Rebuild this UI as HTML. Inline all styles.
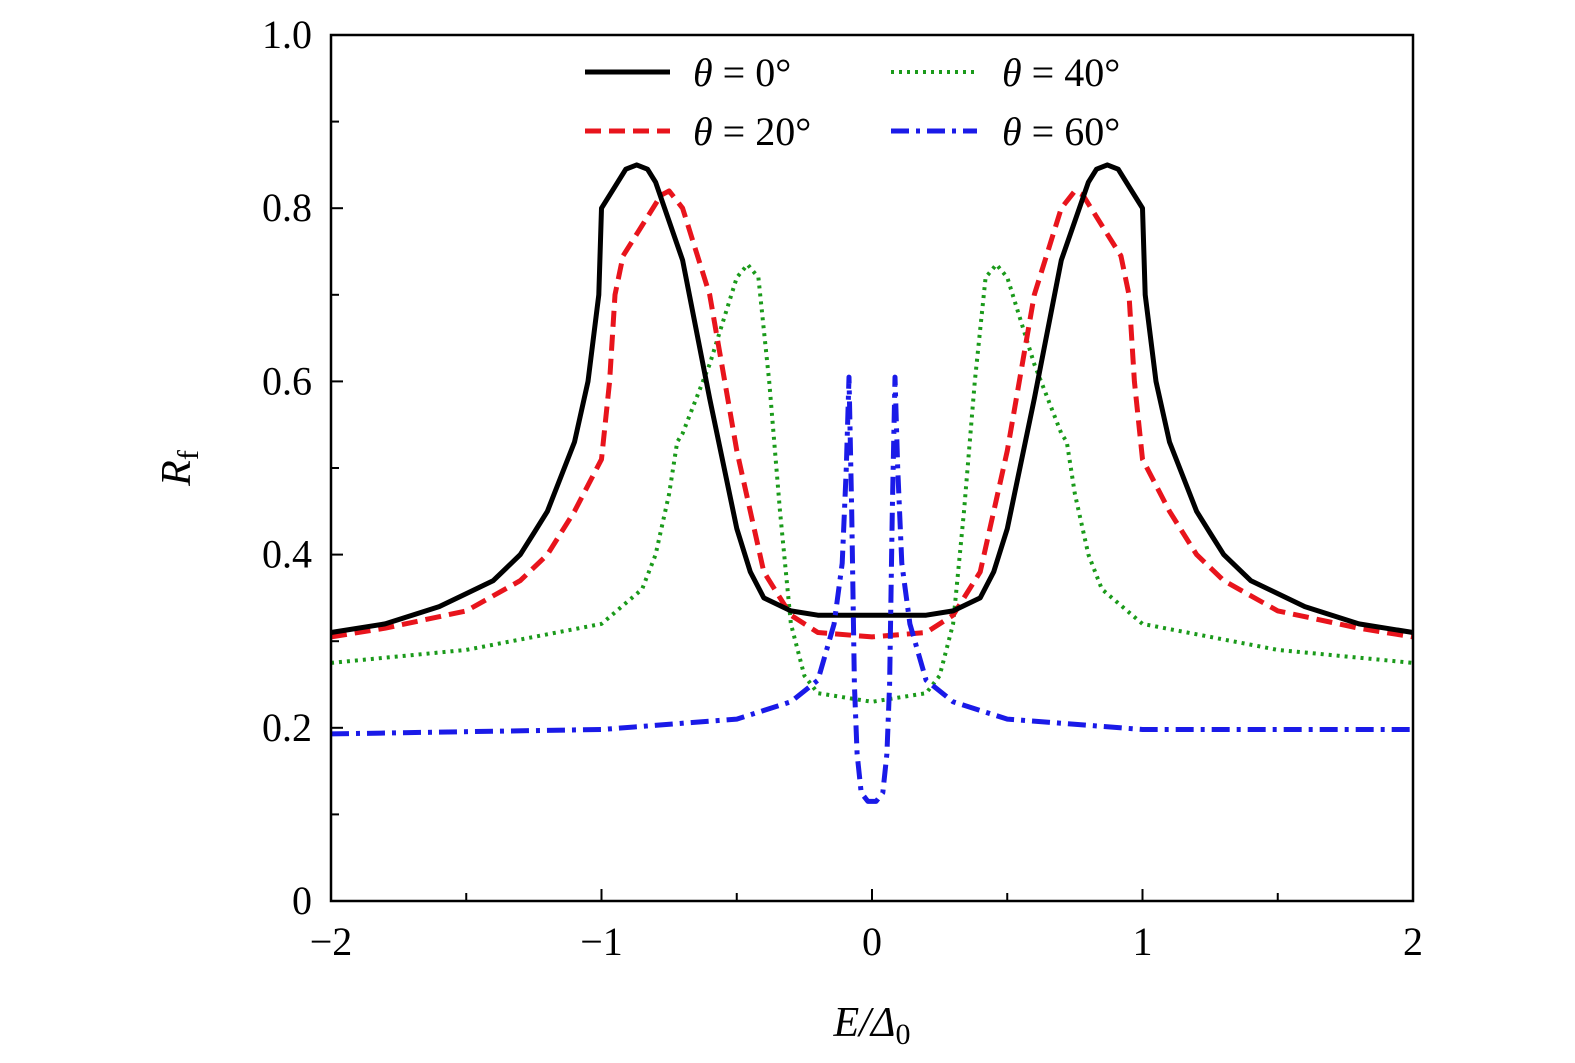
<!DOCTYPE html>
<html><head><meta charset="utf-8"><style>
html,body{margin:0;padding:0;background:#fff;overflow:hidden;width:1575px;height:1063px;}
svg{display:block;font-family:"Liberation Serif",serif;}
</style></head><body>
<svg id="chart" width="1575" height="1063" viewBox="0 0 1575 1063" xmlns="http://www.w3.org/2000/svg">
<g id="ticks"></g>
<g id="series"></g>
<rect x="331" y="35" width="1082" height="866" fill="none" stroke="#000" stroke-width="2.5"/>
<text transform="translate(190,468) rotate(-90)" font-size="42" text-anchor="middle" font-style="italic">R<tspan font-style="normal" font-size="30" dy="8">f</tspan></text>
<text x="872" y="1036" font-size="42" text-anchor="middle" font-style="italic">E/Δ<tspan font-style="normal" font-size="30" dy="8">0</tspan></text>
<g font-size="40">
<g><line x1="585" y1="72" x2="670" y2="72" stroke="#000" stroke-width="5"/><text x="693" y="86"><tspan font-style="italic">θ</tspan> = 0°</text></g>
<g><line x1="585" y1="131" x2="670" y2="131" stroke="#e8141c" stroke-width="5" stroke-dasharray="16,8"/><text x="693" y="145"><tspan font-style="italic">θ</tspan> = 20°</text></g>
<g><line x1="891" y1="72" x2="977" y2="72" stroke="#1a9a1a" stroke-width="4" stroke-dasharray="3,5"/><text x="1002" y="86"><tspan font-style="italic">θ</tspan> = 40°</text></g>
<g><line x1="891" y1="131" x2="977" y2="131" stroke="#1a1ae8" stroke-width="5" stroke-dasharray="18,7,4,7"/><text x="1002" y="145"><tspan font-style="italic">θ</tspan> = 60°</text></g>
</g>
</svg>
<script>
const xTicks=[-2,-1,0,1,2];
const xTickLabels=["−2","−1","0","1","2"];
const yTicks=[0,0.2,0.4,0.6,0.8,1.0];
const yTickLabels=["0","0.2","0.4","0.6","0.8","1.0"];
const e0=[-2,-1.8,-1.6,-1.5,-1.4,-1.3,-1.25,-1.2,-1.1,-1.05,-1.01,-1.0,-0.95,-0.91,-0.87,-0.83,-0.8,-0.7,-0.6,-0.5,-0.45,-0.4,-0.3,-0.2,0,0.2,0.3,0.4,0.45,0.5,0.6,0.7,0.8,0.83,0.87,0.91,0.95,1.0,1.01,1.05,1.1,1.2,1.25,1.3,1.4,1.5,1.6,1.8,2];
const r0=[0.31,0.32,0.34,0.355,0.37,0.40,0.425,0.45,0.53,0.60,0.70,0.80,0.825,0.845,0.85,0.845,0.83,0.74,0.58,0.43,0.38,0.35,0.335,0.33,0.33,0.33,0.335,0.35,0.38,0.43,0.58,0.74,0.83,0.845,0.85,0.845,0.825,0.80,0.70,0.60,0.53,0.45,0.425,0.40,0.37,0.355,0.34,0.32,0.31];
const e20=[-2,-1.8,-1.5,-1.3,-1.2,-1.1,-1.0,-0.97,-0.95,-0.92,-0.85,-0.78,-0.75,-0.7,-0.6,-0.5,-0.4,-0.3,-0.2,0,0.2,0.3,0.4,0.5,0.6,0.7,0.75,0.78,0.85,0.92,0.95,0.97,1.0,1.1,1.2,1.3,1.5,1.8,2];
const r20=[0.305,0.315,0.335,0.37,0.40,0.45,0.51,0.60,0.70,0.745,0.78,0.815,0.82,0.80,0.70,0.52,0.38,0.33,0.31,0.305,0.31,0.33,0.38,0.52,0.70,0.80,0.82,0.815,0.78,0.745,0.70,0.60,0.51,0.45,0.40,0.37,0.335,0.315,0.305];
const e40=[-2,-1.5,-1,-0.85,-0.8,-0.75,-0.72,-0.7,-0.6,-0.5,-0.46,-0.42,-0.38,-0.34,-0.3,-0.25,-0.2,0,0.2,0.25,0.3,0.34,0.38,0.42,0.46,0.5,0.6,0.7,0.72,0.75,0.8,0.85,1,1.5,2];
const r40=[0.275,0.29,0.32,0.36,0.40,0.47,0.53,0.54,0.62,0.72,0.735,0.72,0.60,0.45,0.32,0.26,0.24,0.23,0.24,0.26,0.32,0.45,0.60,0.72,0.735,0.72,0.62,0.54,0.53,0.47,0.40,0.36,0.32,0.29,0.275];
const e60=[-2,-1,-0.5,-0.3,-0.2,-0.14,-0.11,-0.095,-0.085,-0.075,-0.065,-0.055,-0.04,-0.015,0.015,0.04,0.055,0.065,0.075,0.085,0.095,0.11,0.14,0.2,0.3,0.5,1,2];
const r60=[0.193,0.198,0.21,0.23,0.255,0.32,0.39,0.50,0.605,0.45,0.25,0.17,0.125,0.115,0.115,0.125,0.17,0.25,0.45,0.605,0.50,0.39,0.32,0.255,0.23,0.21,0.198,0.198];
const X=v=>872+v*270.5, Y=v=>901-v*866;
const NS="http://www.w3.org/2000/svg";
const tg=document.getElementById('ticks'), sg=document.getElementById('series');
function mk(t,a,p){const e=document.createElementNS(NS,t);for(const k in a)e.setAttribute(k,a[k]);p.appendChild(e);return e;}
for(let v=-2;v<=2.001;v+=0.5){const l=mk('line',{x1:X(v),x2:X(v),y1:901,y2:Math.abs(v%1)<1e-6?889:893,stroke:'#000','stroke-width':2},tg);

}
for(let v=0;v<=1.001;v+=0.1){const l=mk('line',{x1:331,x2:Math.round(v*10)%2==0?343:339,y1:Y(v),y2:Y(v),stroke:'#000','stroke-width':2},tg);

}
xTicks.forEach((v,i)=>{const t=mk('text',{x:X(v),y:955,'font-size':40,'text-anchor':'middle'},tg);t.textContent=xTickLabels[i];

});
yTicks.forEach((v,i)=>{const t=mk('text',{x:312,y:Y(v)+13,'font-size':40,'text-anchor':'end'},tg);t.textContent=yTickLabels[i];

});
function line(es,rs,col,w,dash,name){const d=es.map((e,i)=>(i?'L':'M')+X(e).toFixed(1)+','+Y(rs[i]).toFixed(1)).join('');
const p=mk('path',{d:d,fill:'none',stroke:col,'stroke-width':w,'stroke-dasharray':dash,'stroke-linejoin':'round'},sg);

}
line(e40,r40,'#1a9a1a',4,'3,5','series-theta-40');
line(e20,r20,'#e8141c',5,'16,8','series-theta-20');
line(e0,r0,'#000',5,'none','series-theta-0');
line(e60,r60,'#1a1ae8',5,'18,7,4,7','series-theta-60');
</script>
</body></html>
